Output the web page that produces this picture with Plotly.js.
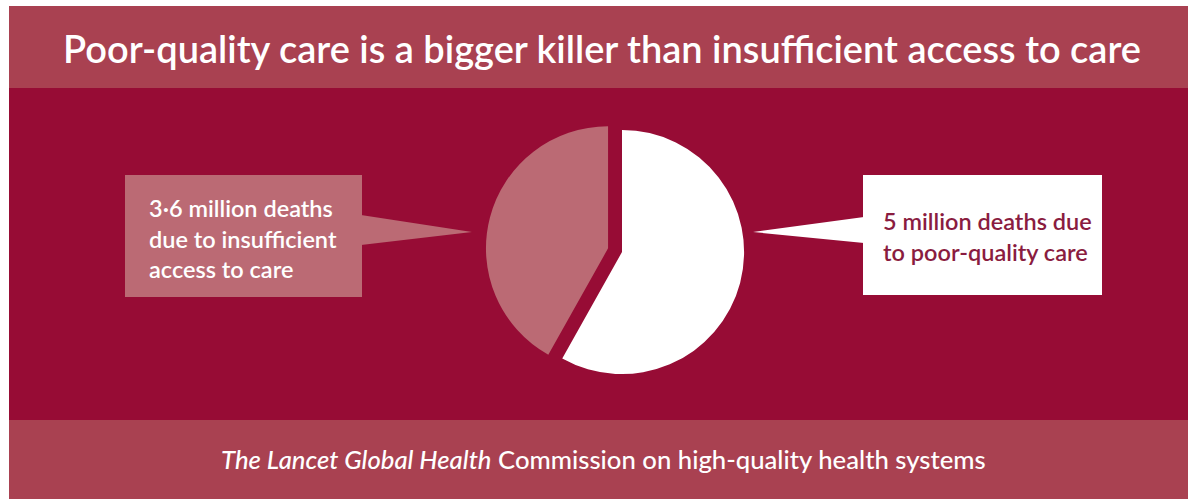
<!DOCTYPE html>
<html><head><meta charset="utf-8">
<script src="https://cdn.plot.ly/plotly-3.0.1.min.js"></script>
<style>html,body{margin:0;padding:0;background:#fff}</style>
</head><body>
<div id="chart" style="width:1188px;height:499px"></div>
<script>
// Data
const categories = ["5 million deaths due to poor-quality care", "3·6 million deaths due to insufficient access to care"];
const deathsMillions = [5, 3.6];
const sliceColors = ["#ffffff", "#bb6a74"];
const titleText = "Poor-quality care is a bigger killer than insufficient access to care";
const leftLabel = "3·6 million deaths<br>due to insufficient<br>access to care";
const rightLabel = "5 million deaths due<br>to poor-quality care";
const footerText = "<i>The Lancet Global Health</i> Commission on high-quality health systems";

const W = 1188, H = 499;
const px = x => x / W;
const py = y => 1 - y / H;
const FONT = "Lato, 'Open Sans', sans-serif";

const BAND = "#a94151", DARK = "#970c35", PINK = "#bb6a74", TXTDARK = "#8a1c40";

const shapes = [
  {type:'rect', xref:'paper', yref:'paper', x0:px(9), x1:px(W), y0:py(6), y1:py(88), fillcolor:BAND, line:{width:0}, layer:'below'},
  {type:'rect', xref:'paper', yref:'paper', x0:px(9), x1:px(W), y0:py(88), y1:py(420), fillcolor:DARK, line:{width:0}, layer:'below'},
  {type:'rect', xref:'paper', yref:'paper', x0:px(9), x1:px(W), y0:py(420), y1:py(H), fillcolor:BAND, line:{width:0}, layer:'below'},
  // left callout
  {type:'rect', xref:'paper', yref:'paper', x0:px(125), x1:px(362), y0:py(175), y1:py(297), fillcolor:PINK, line:{width:0}, layer:'below'},
  {type:'path', xref:'paper', yref:'paper', path:`M ${px(361)} ${py(215)} L ${px(472)} ${py(232)} L ${px(361)} ${py(245)} Z`, fillcolor:PINK, line:{width:0}, layer:'below'},
  // right callout
  {type:'rect', xref:'paper', yref:'paper', x0:px(863), x1:px(1102), y0:py(175), y1:py(295), fillcolor:'#ffffff', line:{width:0}, layer:'below'},
  {type:'path', xref:'paper', yref:'paper', path:`M ${px(864)} ${py(217)} L ${px(753)} ${py(232)} L ${px(864)} ${py(243)} Z`, fillcolor:'#ffffff', line:{width:0}, layer:'below'}
];

const cx = 622, cy = 252, box = 273;
const trace = {
  type:'pie',
  labels: categories,
  values: deathsMillions,
  marker:{colors: sliceColors, line:{width:0}},
  sort:false,
  direction:'clockwise',
  rotation:0,
  pull:[0, 0.118],
  textinfo:'none',
  hoverinfo:'label+value',
  showlegend:false,
  domain:{x:[px(cx - box/2), px(cx + box/2)], y:[py(cy + box/2), py(cy - box/2)]}
};

const annotations = [
  {xref:'paper', yref:'paper', x:px(602), y:py(48), xanchor:'center', yanchor:'middle', showarrow:false,
   text:titleText, font:{family:FONT, size:38, color:'#ffffff', weight:600}},
  {xref:'paper', yref:'paper', x:px(147), y:py(239), xanchor:'left', yanchor:'middle', align:'left', showarrow:false,
   text:leftLabel, font:{family:FONT, size:23.5, color:'#ffffff', weight:600}},
  {xref:'paper', yref:'paper', x:px(881), y:py(237), xanchor:'left', yanchor:'middle', align:'left', showarrow:false,
   text:rightLabel, font:{family:FONT, size:23.5, color:TXTDARK, weight:600}},
  {xref:'paper', yref:'paper', x:px(603), y:py(459), xanchor:'center', yanchor:'middle', showarrow:false,
   text:footerText, font:{family:FONT, size:25.7, color:'#ffffff', weight:500}}
];

Plotly.newPlot('chart', [trace], {
  width:W, height:H,
  margin:{l:0, r:0, t:0, b:0},
  paper_bgcolor:'#ffffff', plot_bgcolor:'#ffffff',
  shapes, annotations,
  showlegend:false
}, {displayModeBar:false, staticPlot:true});
</script>
</body></html>
